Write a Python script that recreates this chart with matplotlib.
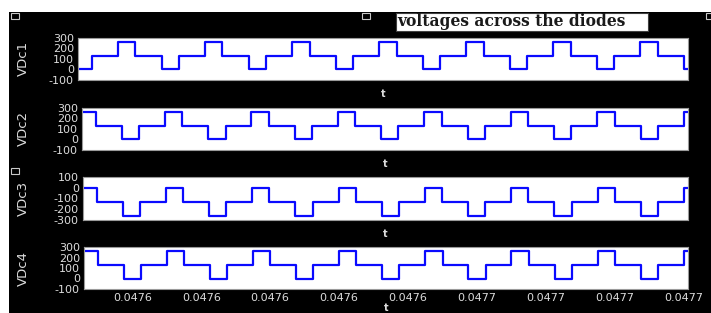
"""Voltages across the four diodes (scope-style black window, four stacked traces)."""

import matplotlib

matplotlib.use("Agg")
import matplotlib.pyplot as plt
from matplotlib.patches import Rectangle

# Switching instants (s) and levels (V).
TIMES = [
    0.0475975, 0.0476000, 0.04760375, 0.04760625,
    0.0476100, 0.0476125, 0.04761625, 0.04761875,
    0.0476225, 0.0476250, 0.04762875, 0.04763125,
    0.0476350, 0.0476375, 0.04764125, 0.04764375,
    0.0476475, 0.0476500, 0.04765375, 0.04765625,
    0.0476600, 0.0476625, 0.04766625, 0.04766875,
    0.0476725, 0.0476750, 0.04767875, 0.04768125,
    0.0476850, 0.0476875,
]
VDC1 = [0, 130, 260, 130] * 7 + [0, 130]
VDC2 = [260, 130, 0, 130] * 7 + [260, 130]
VDC3 = [0, -130, -260, -130] * 7 + [0, -130]
VDC4 = [260, 130, 0, 130] * 7 + [260, 130]

SERIES = [VDC1, VDC2, VDC3, VDC4]
NAMES = ["VDc1", "VDc2", "VDc3", "VDc4"]
YTICKS = [
    [-100, 0, 100, 200, 300],
    [-100, 0, 100, 200, 300],
    [-300, -200, -100, 0, 100],
    [-100, 0, 100, 200, 300],
]
XLIM = (0.047598, 0.0476856)
XTICKS = [0.047605, 0.047615, 0.047625, 0.047635, 0.047645,
          0.047655, 0.047665, 0.047675, 0.047685]
XTICK_LABELS = ["0.0476"] * 5 + ["0.0477"] * 4
TITLE = "voltages across the diodes"

W, H = 711, 313
# panel boxes in pixels: left, top, right, bottom
PANELS = [(78, 37.5, 688, 80), (82, 107.5, 688, 150), (83, 177, 688, 220), (84, 247, 688, 289)]
XLABEL_TOPS = [89, 159, 229, 303]

TEXT_COLOR = "#dcdcdc"
LINE_COLOR = "#0a0aff"


def fig_rect(left, top, right, bottom):
    return [left / W, 1 - bottom / H, (right - left) / W, (bottom - top) / H]


fig = plt.figure(figsize=(W / 100, H / 100), dpi=100)
fig.patch.set_facecolor("white")
fig.add_artist(Rectangle((9 / W, 0), 1, 1 - 12 / H, transform=fig.transFigure,
                         facecolor="black", edgecolor="none", zorder=-10))

# little window-control squares
for px, py in [(11, 13), (362, 13), (706, 13), (11, 168)]:
    fig.add_artist(Rectangle((px / W, 1 - (py + 6) / H), 8 / W, 6 / H,
                             transform=fig.transFigure, facecolor="black",
                             edgecolor="#c8c8c8", linewidth=0.8))

# title box
fig.add_artist(Rectangle((396 / W, 1 - 31 / H), 252 / W, 18 / H, transform=fig.transFigure,
                         facecolor="white", edgecolor="#404040", linewidth=0.8))
fig.text(397 / W, 1 - 22 / H, TITLE, ha="left", va="center", fontsize=11.2,
         fontweight="bold", family="DejaVu Serif", color="#1a1a1a")

for i, (box, vals, name, yt) in enumerate(zip(PANELS, SERIES, NAMES, YTICKS)):
    ax = fig.add_axes(fig_rect(*box))
    ax.set_facecolor("white")
    ax.step(TIMES, vals, where="post", color=LINE_COLOR, linewidth=1.6)
    ax.set_xlim(*XLIM)
    ax.set_ylim(yt[0], yt[-1])
    ax.set_yticks(yt)
    ax.set_yticklabels([str(v) for v in yt])
    ax.set_xticks(XTICKS)
    if i == 3:
        ax.set_xticklabels(XTICK_LABELS)
    else:
        ax.set_xticklabels([])
    ax.tick_params(length=0, pad=3, colors=TEXT_COLOR, labelsize=8)
    for s in ax.spines.values():
        s.set_color("#9a9a9a")
        s.set_linewidth(0.8)

    width = box[2] - box[0]
    height = box[3] - box[1]
    ax.set_ylabel(name, color=TEXT_COLOR, fontsize=9.5)
    ax.yaxis.set_label_coords((30 - box[0]) / width, 0.5)
    ax.set_xlabel("t", color=TEXT_COLOR, fontsize=7, fontweight="bold")
    ax.xaxis.set_label_coords(0.5, -(XLABEL_TOPS[i] - box[3]) / height)

fig.savefig("out.png", dpi=100, facecolor=fig.get_facecolor())
